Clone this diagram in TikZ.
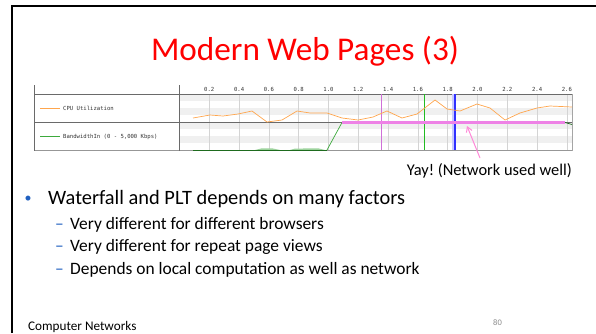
\documentclass[tikz,border=0pt]{standalone}
\usepackage{fontspec}
\setmainfont{Carlito}
\newfontfamily\chartfont{DejaVu Sans Mono}
\usetikzlibrary{arrows.meta}
\frenchspacing
\definecolor{titlered}{HTML}{FF0000}
\definecolor{cpuorange}{HTML}{FFA64D}
\definecolor{bwgreen}{HTML}{3DAA3D}
\definecolor{bwdark}{HTML}{1E6B1E}
\definecolor{bwlight}{HTML}{9ED39E}
\definecolor{netpink}{HTML}{EE82E6}
\definecolor{arrowpink}{HTML}{FF88D8}
\definecolor{markmagenta}{HTML}{D070D8}
\definecolor{markgreen}{HTML}{22BB22}
\definecolor{markblue}{HTML}{3030FF}
\definecolor{bandblue}{HTML}{C8C8FF}
\definecolor{stripe}{HTML}{F0F0F0}
\definecolor{gridgray}{HTML}{D4D4D4}
\definecolor{framegray}{HTML}{6A6A6A}
\definecolor{bulletblue}{HTML}{2060C0}
\definecolor{pagegray}{HTML}{8C8C8C}
\tikzset{
  slideborder/.style={line width=2pt, black},
  rowline/.style={line width=0.8pt, framegray},
  gridline/.style={line width=0.7pt, gridgray},
  ticklabel/.style={font=\chartfont\fontsize{5.6}{6}\selectfont, text=black!80, inner sep=0pt, anchor=base},
  legendlabel/.style={font=\chartfont\fontsize{5.6}{6}\selectfont, text=black!80, inner sep=0pt, anchor=west},
  cpuline/.style={line width=0.7pt, cpuorange, line join=round},
  bodytext/.style={inner sep=0pt, anchor=base west, text=black},
}
\begin{document}
\begin{tikzpicture}[x=1pt, y=-1pt]
\useasboundingbox (0,0) rectangle (596,333);
\fill[white] (0,0) rectangle (596,333);

% slide frame
\draw[slideborder] (12,333) -- (12,6) -- (596,6);

% title
\node[font=\fontsize{33.2}{40}\selectfont, text=titlered, inner sep=0pt, anchor=base] (title) at (305,60) {Modern Web Pages (3)};

% ---------- chart ----------
% background stripes of the plot area
\foreach \r in {94,122}{
  \fill[stripe] (180,\r+0.6) rectangle (572,\r+7);
  \fill[stripe] (180,\r+14) rectangle (572,\r+21);
}
% time grid
\foreach \i/\lab in {1/0.2,2/0.4,3/0.6,4/0.8,5/1.0,6/1.2,7/1.4,8/1.6,9/1.8,10/2.0,11/2.2,12/2.4,13/2.6}{
  \draw[gridline] ({179.5+29.8*\i},94) -- ({179.5+29.8*\i},150);
  \node[ticklabel] (tick\i) at ({179.5+29.8*\i},91) {\lab};
}
% frame of the chart
\draw[rowline] (34,94) -- (572,94);
\draw[rowline] (34,122) -- (572,122);
\draw[rowline, framegray!70] (34,150.5) -- (572,150.5);
\draw[rowline] (34,85) -- (34,150.5);
\draw[rowline] (179.5,85) -- (179.5,150.5);
\draw[line width=0.8pt, framegray!60] (572,94) -- (572,150.5);

% legend
\draw[line width=0.6pt, cpuorange] (40,108) -- (60,108);
\node[legendlabel] (cpulabel) at (63,108) {CPU Utilization};
\draw[line width=0.6pt, bwgreen] (40,136.5) -- (60,136.5);
\node[legendlabel] (bwlabel) at (63,136.5) {BandwidthIn (0 - 5,000 Kbps)};

% event markers
\fill[bandblue] (451.5,94) rectangle (455,150);
\draw[line width=0.9pt, markmagenta] (381.7,94) -- (381.7,150);
\draw[line width=0.9pt, markgreen] (424,94) -- (424,150);
\draw[line width=1.1pt, markblue] (455,94) -- (455,150);

% CPU utilisation trace
\draw[cpuline] (193,118) -- (210,115) -- (223,116) -- (238,114) -- (252,111)
  -- (267,122) -- (282,120) -- (297,111) -- (310,113) -- (327,113)
  -- (342,118) -- (358,120) -- (373,117) -- (387,111) -- (402,118)
  -- (417,114) -- (435,100) -- (447,109) -- (460,111) -- (477,104)
  -- (490,108) -- (505,120) -- (520,113) -- (537,108) -- (550,106) -- (572,107);

% bandwidth trace
\fill[bwlight] (255,150) -- (262,148.3) -- (272,148.3) -- (280,150) -- cycle;
\fill[bwlight] (290,150) -- (295,148.6) -- (318,148.3) -- (325,150) -- cycle;
\draw[line width=0.9pt, bwdark] (193,150) -- (327,150);
\draw[line width=0.7pt, bwgreen] (327,150) -- (342,122.5);
\draw[line width=2.2pt, netpink] (342,122.5) -- (565,122.5);
\draw[line width=0.7pt, bwdark] (565,122.5) -- (572,124.5);

% annotation
\coordinate (tip) at (467,126);
\coordinate (tail) at (480,158);
\node[font=\fontsize{16.4}{18}\selectfont, inner sep=0pt, anchor=base east] (yay) at (572,175) {Yay! (Network used well)};
\draw[line width=1pt, arrowpink, -{Straight Barb[length=5pt,width=6pt]}] (tail) -- (tip);

% ---------- bullets ----------
\node[text=bulletblue, font=\fontsize{14}{16}\selectfont, inner sep=0pt, anchor=base] (b0) at (28,202) {\textbullet};
\node[bodytext, font=\fontsize{20.4}{24}\selectfont] (l1) at (48,204) {Waterfall and PLT depends on many factors};
\foreach \y/\txt [count=\k] in {229/Very different for different browsers,
                                 251.5/Very different for repeat page views,
                                 274/Depends on local computation as well as network}{
  \node[bodytext, font=\fontsize{17.4}{20}\selectfont, text=bulletblue] (d\k) at (55,\y) {\char"2013};
  \node[bodytext, font=\fontsize{17.4}{20}\selectfont] (s\k) at (70,\y) {\txt};
}

% footer
\node[bodytext, font=\fontsize{13.2}{15}\selectfont] (footer) at (28,330.5) {Computer Networks};
\node[inner sep=0pt, anchor=base east, font=\fontsize{8.5}{10}\selectfont, text=pagegray] (page) at (502,325) {80};
\end{tikzpicture}
\end{document}
